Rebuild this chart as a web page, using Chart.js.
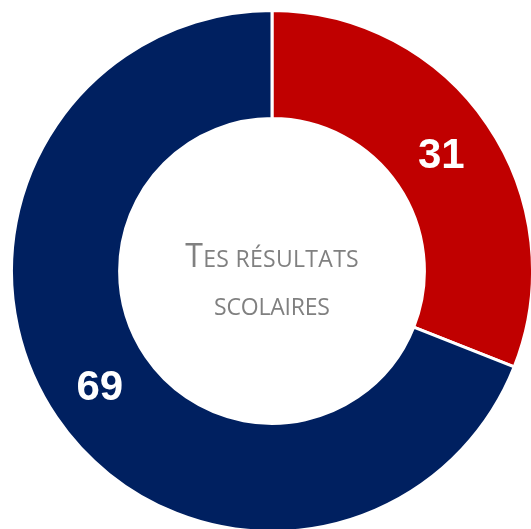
<!DOCTYPE html>
<html>
<head>
<meta charset="utf-8">
<script src="https://cdn.jsdelivr.net/npm/chart.js@4.4.0/dist/chart.umd.min.js"></script>
<style>
  html, body { margin: 0; padding: 0; background: #ffffff; overflow: hidden; width: 531px; height: 529px; }
  #wrap { position: absolute; left: 10px; top: 9px; width: 524px; height: 524px; }
</style>
</head>
<body>
<div id="wrap"><canvas id="c" width="524" height="524"></canvas></div>
<script>
const categories = ["Réussite", "Reste"];
const values = [31, 69];
const colors = ["#C00000", "#002060"];
const centerLines = ["Tes résultats", "scolaires"];

const labelPlugin = {
  id: 'sliceLabels',
  afterDatasetsDraw(chart) {
    const ctx = chart.ctx;
    const meta = chart.getDatasetMeta(0);
    ctx.save();
    ctx.fillStyle = '#ffffff';
    ctx.font = 'bold 42px "Liberation Sans", Arial, sans-serif';
    ctx.textAlign = 'center';
    ctx.textBaseline = 'middle';
    meta.data.forEach((arc, i) => {
      const p = arc.tooltipPosition();
      ctx.fillText(String(values[i]), p.x - 1.5, p.y + 1);
    });
    ctx.restore();
  }
};

function drawSmallCaps(ctx, text, cx, baseline, bigSize, smallSize, family, spacing) {
  const segs = [];
  for (const ch of text) {
    const isUpper = ch !== ch.toLowerCase() && ch === ch.toUpperCase();
    const size = isUpper ? bigSize : smallSize;
    const glyph = ch.toUpperCase();
    if (segs.length && segs[segs.length - 1].size === size) segs[segs.length - 1].t += glyph;
    else segs.push({ t: glyph, size });
  }
  ctx.letterSpacing = spacing + 'px';
  let total = 0;
  segs.forEach(s => { ctx.font = s.size + 'px ' + family; s.w = ctx.measureText(s.t).width; total += s.w; });
  total -= spacing;
  let x = cx - total / 2;
  ctx.textAlign = 'left';
  ctx.textBaseline = 'alphabetic';
  segs.forEach(s => { ctx.font = s.size + 'px ' + family; ctx.fillText(s.t, x, baseline); x += s.w; });
}

const centerPlugin = {
  id: 'centerText',
  afterDraw(chart) {
    const ctx = chart.ctx;
    const meta = chart.getDatasetMeta(0);
    const arc = meta.data[0];
    const cx = arc.x, cy = arc.y;
    ctx.save();
    ctx.fillStyle = '#808080';
    const fam = '"Open Sans", sans-serif';
    drawSmallCaps(ctx, centerLines[0], cx, cy - 4, 32, 23, fam, 0.3);
    drawSmallCaps(ctx, centerLines[1], cx, cy + 44, 32, 23, fam, -0.2);
    ctx.restore();
  }
};

new Chart(document.getElementById('c'), {
  type: 'doughnut',
  data: {
    labels: categories,
    datasets: [{
      data: values,
      backgroundColor: colors,
      borderColor: '#ffffff',
      borderWidth: 3,
      hoverOffset: 0
    }]
  },
  options: {
    responsive: false,
    animation: false,
    cutout: '58.5%',
    layout: { padding: 0 },
    plugins: {
      legend: { display: false },
      tooltip: { enabled: false }
    }
  },
  plugins: [labelPlugin, centerPlugin]
});
</script>
</body>
</html>
